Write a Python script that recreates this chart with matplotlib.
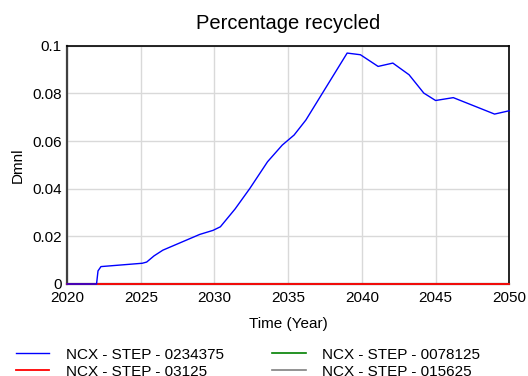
import numpy as np
import matplotlib.pyplot as plt

plt.rcParams['font.family'] = ['Liberation Sans', 'DejaVu Sans']

# simulated run: percentage recycled over time
years = [2020, 2022.0, 2022.1, 2022.3, 2025.1, 2025.4, 2025.9, 2026.5,
         2029.0, 2029.9, 2030.4, 2031.4, 2032.4, 2033.6, 2034.6, 2035.4,
         2036.2, 2039.0, 2039.9, 2041.1, 2042.1, 2043.2, 2044.2, 2045.0,
         2046.2, 2049.0, 2050]
recycled = [0, 0, 0.0055, 0.0073, 0.0087, 0.0092, 0.0118, 0.0142,
            0.0208, 0.0225, 0.0240, 0.0315, 0.0401, 0.0513, 0.0583, 0.0625,
            0.0688, 0.0969, 0.0962, 0.0913, 0.0927, 0.0878, 0.0801, 0.0770,
            0.0782, 0.0713, 0.0727]

# other runs stay at zero for the whole horizon
flat_years = [2020, 2050]
flat_vals = [0, 0]

labels = ["NCX - STEP - 0234375", "NCX - STEP - 03125",
          "NCX - STEP - 0078125", "NCX - STEP - 015625"]

fig = plt.figure(figsize=(5.28, 3.76), dpi=100)
ax = fig.add_axes([0.127, 0.2447, 0.8376, 0.6338])

l_green, = ax.plot(flat_years, flat_vals, color="#008000", lw=1.2,
                   clip_on=False, zorder=3)
l_gray, = ax.plot(flat_years, flat_vals, color="#808080", lw=1.2,
                  clip_on=False, zorder=3)
l_red, = ax.plot(flat_years, flat_vals, color="#ff0000", lw=1.3,
                 clip_on=False, zorder=3)
l_blue, = ax.plot(years, recycled, color="#0000ff", lw=1.0,
                  clip_on=False, zorder=4)

ax.set_xlim(2020, 2050)
ax.set_ylim(0, 0.1)
ax.set_xticks(np.arange(2020, 2051, 5))
ax.set_yticks([0, 0.02, 0.04, 0.06, 0.08, 0.1])
ax.set_yticklabels(["0", "0.02", "0.04", "0.06", "0.08", "0.1"])
ax.tick_params(length=0, labelsize=11, pad=4)
ax.tick_params(axis="x", pad=5)
ax.grid(True, color="#d9d9d9", lw=1.0)
ax.set_axisbelow(True)
for side in ["top", "right"]:
    ax.spines[side].set_color("black")
    ax.spines[side].set_linewidth(1.2)
for side in ["left", "bottom"]:
    ax.spines[side].set_color("#404040")
    ax.spines[side].set_linewidth(1.6)
    ax.spines[side].set_zorder(2)

ax.set_title("Percentage recycled", fontsize=14.5, pad=12)
ax.set_xlabel("Time (Year)", fontsize=11, labelpad=9)
ax.set_ylabel("Dmnl", fontsize=11, labelpad=5)

fig.legend([l_blue, l_red, l_green, l_gray], labels, ncol=2,
           loc="upper left", bbox_to_anchor=(0.004, 0.112), frameon=False,
           fontsize=11, handlelength=2.2, handletextpad=1.05,
           columnspacing=3.2, labelspacing=0.2)

fig.savefig("out.png", dpi=100)
